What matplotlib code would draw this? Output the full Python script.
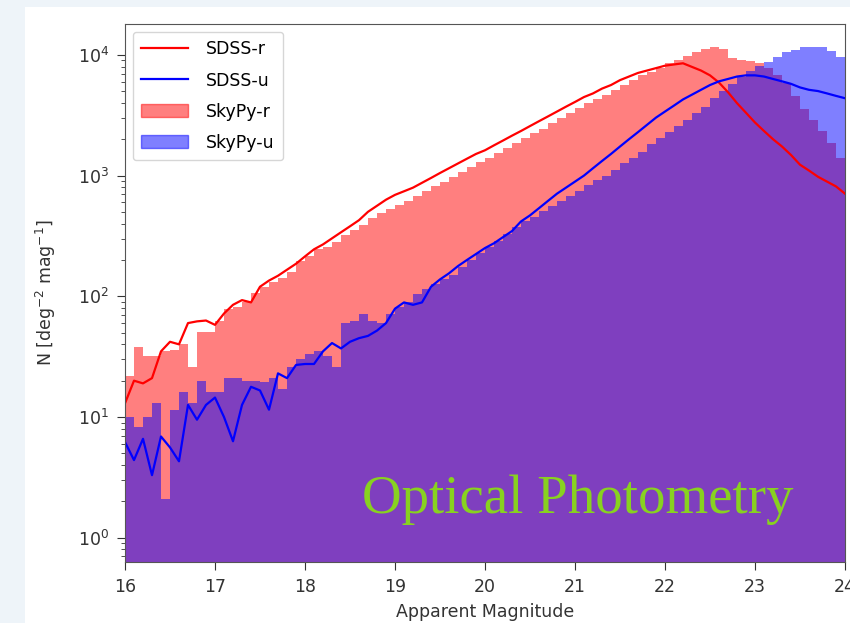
import numpy as np
import matplotlib
matplotlib.use('Agg')
import matplotlib.pyplot as plt
from matplotlib.lines import Line2D
from matplotlib.patches import Patch, Rectangle

# bin edges of the histograms (mag)
edges = np.round(np.arange(16.0, 24.01, 0.1), 2)
# magnitudes at which the SDSS counts are drawn
mag_sdss = np.round(np.arange(16.0, 24.01, 0.1), 2)

# SkyPy r-band counts per bin [deg^-2 mag^-1]
skypy_r = [22, 38, 32, 32, 35, 36, 40, 26, 51, 51,
           63, 78, 81, 89, 107, 120, 132, 141, 158, 195,
           214, 245, 257, 282, 324, 355, 389, 447, 490, 525,
           575, 617, 676, 741, 813, 891, 977, 1070, 1175, 1290,
           1410, 1550, 1700, 1860, 2040, 2240, 2450, 2750, 3020, 3310,
           3630, 3980, 4270, 4680, 5130, 5620, 6170, 6760, 7240, 7760,
           8510, 9120, 9770, 10500, 11200, 11500, 11200, 9330, 9120, 8910,
           8510, 7760, 6760, 5890, 4570, 3550, 2880, 2340, 1860, 1410]

# SkyPy u-band counts per bin
skypy_u = [10, 8.3, 10, 13, 2.1, 11.5, 16, 13, 20, 16,
           16, 21, 21, 20, 20, 19.5, 21, 17, 26, 30,
           33, 35, 32, 26, 60, 62, 72, 62, 60, 71,
           81, 89, 105, 115, 126, 138, 151, 174, 200, 229,
           257, 288, 331, 372, 417, 457, 513, 562, 617, 676,
           741, 832, 912, 1000, 1120, 1260, 1410, 1580, 1820, 2040,
           2290, 2570, 2880, 3310, 3720, 4370, 5010, 5750, 6610, 7410,
           8130, 8710, 9550, 10500, 11000, 11500, 11700, 11500, 10700, 9550]

# SDSS r-band counts
sdss_r = [13, 20, 19, 21, 35, 42, 40, 60, 62, 63,
          58, 72, 85, 93, 89, 120, 135, 148, 166, 186,
          214, 245, 269, 302, 339, 380, 427, 501, 562, 631,
          692, 741, 794, 871, 955, 1050, 1150, 1260, 1380, 1510,
          1620, 1780, 1950, 2140, 2340, 2570, 2820, 3090, 3390, 3720,
          4070, 4470, 4790, 5250, 5620, 6170, 6610, 7080, 7410, 7760,
          8130, 8320, 8510, 7940, 7410, 6760, 5890, 4900, 3980, 3310,
          2750, 2340, 2000, 1740, 1480, 1230, 1100, 977, 891, 813,
          708]

# SDSS u-band counts
sdss_u = [6.2, 4.4, 6.6, 3.3, 6.9, 5.6, 4.3, 12.6, 9.5, 12.6,
          14.5, 10, 6.3, 12.6, 17.8, 16.6, 11.5, 23, 21, 27,
          27.5, 27.5, 35, 41, 37, 42, 45, 47, 52, 60,
          79, 89, 85, 89, 120, 138, 155, 178, 200, 224,
          251, 275, 309, 347, 417, 468, 537, 617, 708, 794,
          891, 1000, 1150, 1320, 1510, 1740, 2000, 2290, 2630, 3020,
          3390, 3800, 4270, 4680, 5130, 5620, 6030, 6310, 6610, 6760,
          6760, 6610, 6310, 6030, 5750, 5370, 5130, 5010, 4790, 4570,
          4370]

plt.rcParams['font.size'] = 12.5

fig = plt.figure(figsize=(8.5, 6.23), dpi=100, facecolor='#eef4f9')
# white card behind the plot
fig.patches.append(Rectangle((25 / 850, 0), 1 - 25 / 850, 1 - 7 / 623,
                             transform=fig.transFigure, facecolor='white',
                             edgecolor='none', zorder=-1))

ax = fig.add_axes([125 / 850, 1 - 562 / 623, 720 / 850, 538 / 623])
ax.set_facecolor('white')

ax.stairs(skypy_r, edges, fill=True, color='red', alpha=0.5, baseline=1e-3, linewidth=0)
ax.stairs(skypy_u, edges, fill=True, color='blue', alpha=0.5, baseline=1e-3, linewidth=0)
ax.plot(mag_sdss, sdss_r, color='red', lw=1.6)
ax.plot(mag_sdss, sdss_u, color='blue', lw=1.6)

ax.set_yscale('log')
ax.set_xlim(16, 24)
ax.set_ylim(0.63, 18000)
ax.set_xticks(range(16, 25))
ax.set_xlabel('Apparent Magnitude', color='#333333', labelpad=5)
ax.set_ylabel(r'N [deg$^{-2}$ mag$^{-1}$]', color='#333333', labelpad=14)
ax.tick_params(colors='#333333', which='major', length=5.5, pad=6)
ax.tick_params(colors='#333333', which='minor', length=3)
for s in ax.spines.values():
    s.set_color('#555555')

handles = [Line2D([], [], color='red', lw=1.6),
           Line2D([], [], color='blue', lw=1.6),
           Patch(color='red', alpha=0.5),
           Patch(color='blue', alpha=0.5)]
ax.legend(handles, ['SDSS-r', 'SDSS-u', 'SkyPy-r', 'SkyPy-u'], loc='upper left',
          labelspacing=0.75, handlelength=2.7, handletextpad=1.0,
          borderaxespad=0.45, borderpad=0.5)

fig.text(362 / 850, 1 - 513 / 623, 'Optical Photometry', family='Liberation Serif',
         fontsize=39.5, color='#88d120', va='baseline', ha='left')

fig.savefig('out.png', dpi=100, facecolor=fig.get_facecolor())
